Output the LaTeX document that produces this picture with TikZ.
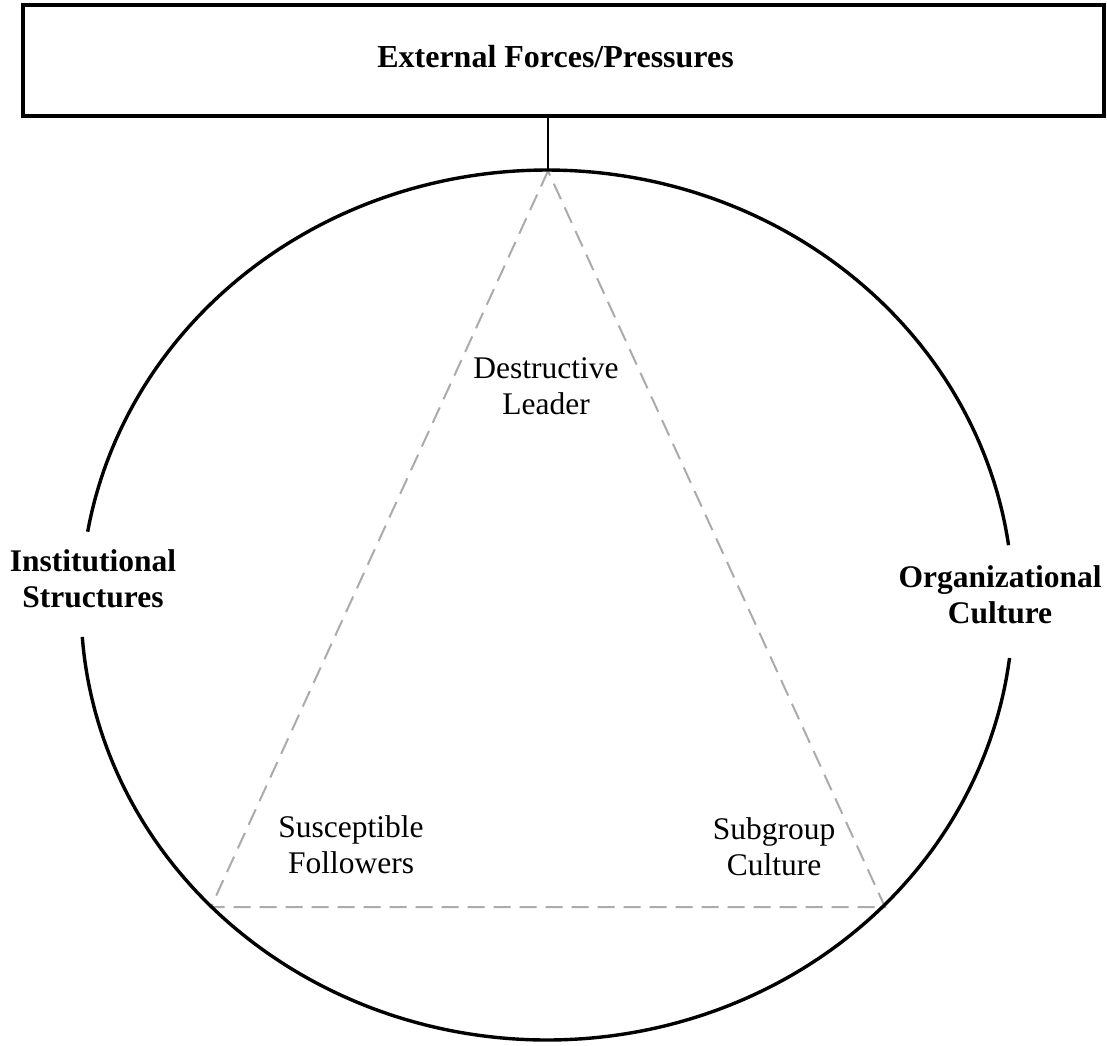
\documentclass[tikz,border=0pt]{standalone}
\usepackage{fontspec}
\setmainfont{Liberation Serif}
\begin{document}
\begin{tikzpicture}[x=0.5pt,y=-0.5pt,
  lbl/.style={font=\fontsize{15.75pt}{18pt}\selectfont, inner sep=0pt, align=center},
  blbl/.style={lbl, font=\fontsize{15.75pt}{18pt}\selectfont\bfseries},
  boxstyle/.style={draw, line width=1.75pt, minimum width=540.5pt, minimum height=55.5pt, inner sep=0pt},
  tri/.style={draw=black!33, line width=1pt, dash pattern=on 8.5pt off 4.5pt},
  oval/.style={draw, line width=1.7pt},
  conn/.style={draw, line width=1pt}]
\useasboundingbox (0,0) rectangle (1107,1045);
% top box
\node[boxstyle] (ext) at (563.5,60.5) {};
\node[blbl, anchor=base, font=\fontsize{16pt}{18pt}\selectfont\bfseries] (exttxt) at (555.5,67) {External Forces/Pressures};
% triangle corners
\coordinate (apex) at (548,171);
\coordinate (bl) at (211,907);
\coordinate (br) at (885,907);
\draw[tri] (apex) -- (bl) -- (br) -- cycle;
% ellipse with gaps for side labels
\draw[oval] plot[domain=7:175.8, samples=120, smooth] ({547+466*cos(\x)},{605+435*sin(\x)});
\draw[oval] plot[domain=189.7:352.1, samples=120, smooth] ({547+466*cos(\x)},{605+435*sin(\x)});
% connector
\draw[conn] (ext.south -| apex) -- (apex);
% labels
\node[blbl] (inst) at (93,578.5) {Institutional\\Structures};
\node[blbl] (org) at (1000,595) {Organizational\\Culture};
\node[lbl] (lead) at (546,386) {Destructive\\Leader};
\node[lbl] (foll) at (351,844.5) {Susceptible\\Followers};
\node[lbl] (sub) at (774,847) {Subgroup\\Culture};
\end{tikzpicture}
\end{document}
